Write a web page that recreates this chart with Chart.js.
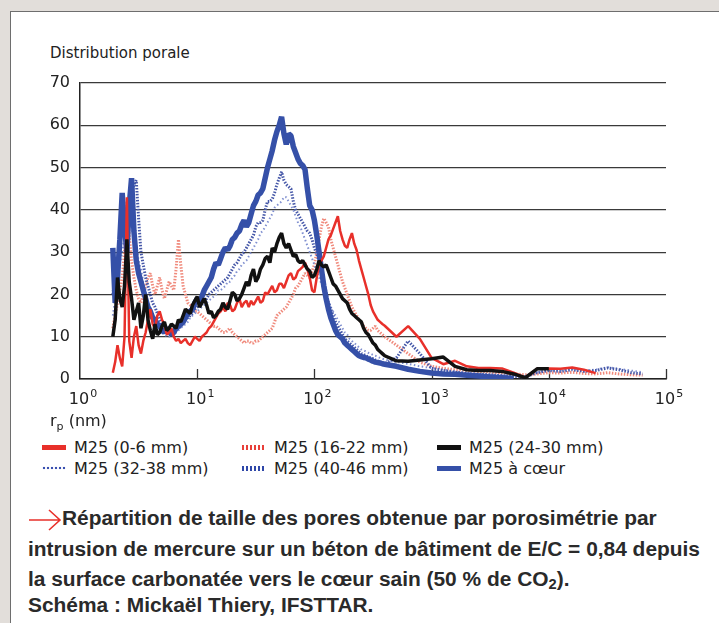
<!DOCTYPE html>
<html><head><meta charset="utf-8">
<script src="https://cdn.jsdelivr.net/npm/chart.js@4.4.1/dist/chart.umd.min.js"></script>
<style>
html,body{margin:0;padding:0;width:719px;height:623px;overflow:hidden;background:#e2deda;position:relative;}
#panel{position:absolute;left:10px;top:11px;width:709px;height:612px;background:#fff;border-left:1.5px solid #6e6e6e;border-top:1.5px solid #6e6e6e;}
#chartwrap{position:absolute;left:0;top:0;width:719px;height:420px;}
.t{position:absolute;font-family:"DejaVu Sans",sans-serif;color:#222;white-space:nowrap;}
.leg{position:absolute;display:flex;align-items:center;height:20px;font-family:"DejaVu Sans",sans-serif;font-size:16px;color:#222;white-space:nowrap;}
.sw{display:inline-block;width:24px;margin-right:8px;}
.cap{position:absolute;left:28px;font-family:"Liberation Sans",Arial,sans-serif;font-weight:bold;font-size:20px;color:#2a2a2a;white-space:nowrap;transform-origin:0 50%;}
</style></head>
<body>
<div id="panel"></div>
<div class="t" style="left:50px;top:44px;font-size:15px;">Distribution porale</div>
<div id="chartwrap"><canvas id="c" width="719" height="420"></canvas></div>
<div class="t" style="left:50px;top:411px;font-size:16px;">r<sub style="font-size:11px;vertical-align:-4px;">p</sub> (nm)</div>
<div id="legend"></div>
<div class="cap" id="cap1" style="top:507px;left:62px;">Répartition de taille des pores obtenue par porosimétrie par</div>
<svg style="position:absolute;left:28px;top:509px" width="34" height="22"><path d="M1 11 H31 M21 1 L32 11 L21 21" fill="none" stroke="#e8302a" stroke-width="1.6"/></svg>
<div class="cap" id="cap2" style="top:538px;">intrusion de mercure sur un béton de bâtiment de E/C = 0,84 depuis</div>
<div class="cap" id="cap3" style="top:568px;">la surface carbonatée vers le cœur sain (50 % de CO<sub style="font-size:14px;vertical-align:-3px;">2</sub>).</div>
<div class="cap" id="cap4" style="top:594px;">Schéma : Mickaël Thiery, IFSTTAR.</div>
<script>
// log10 of pore radius rp (nm)
const logRp = [
  0.28,0.30,0.32,0.34,0.36,0.38,0.40,0.42,0.44,0.46,0.48,0.50,0.52,0.54,0.56,0.58,0.60,0.62,0.64,0.66,
  0.68,0.70,0.72,0.74,0.76,0.78,0.80,0.82,0.84,0.86,0.88,0.90,0.92,0.94,0.96,0.98,1.00,1.02,1.04,1.06,
  1.08,1.10,1.12,1.14,1.16,1.18,1.20,1.22,1.24,1.26,1.28,1.30,1.32,1.34,1.36,1.38,1.40,1.42,1.44,1.46,
  1.48,1.50,1.52,1.54,1.56,1.58,1.60,1.62,1.64,1.66,1.68,1.70,1.72,1.74,1.76,1.78,1.80,1.82,1.84,1.86,
  1.88,1.90,1.92,1.94,1.96,1.98,2.00,2.02,2.04,2.06,2.08,2.10,2.12,2.14,2.16,2.18,2.20,2.22,2.24,2.26,
  2.28,2.30,2.32,2.34,2.36,2.38,2.40,2.42,2.44,2.46,2.48,2.50,2.52,2.54,2.56,2.58,2.60,
  2.70,2.80,2.90,3.00,3.10,3.20,3.30,3.40,3.50,3.60,
  3.70,3.80,3.90,4.00,4.10,4.20,4.30,4.40,4.50,4.60,
  4.70,4.80];

const seriesNames = ['M25 (0-6 mm)','M25 (16-22 mm)','M25 (24-30 mm)','M25 (32-38 mm)','M25 (40-46 mm)','M25 à cœur'];

const m25_0_6 = [
  1.5,4,8,5,3,10,43,9,5,10,12.5,8,6,9,11,14,16.5,13,12,15,
  16,14,13,10.5,11,12,10,9,9.5,8.5,9,9.5,8.5,8,9,10,9.5,9,10,10.5,
  11,12,12.5,13.5,14.5,15.5,16,17,16,18,17.5,16,16.5,18,19,17,18,18.5,17,18.5,
  17.5,18.5,19.5,18,18.5,20.5,20,21,22,20.5,21,22.5,22.5,21.5,23,24.5,25,23.5,24,25.5,
  26,26.5,27.5,26,24,21,20.5,24,27,28,29,31,33,34,35.5,37,38.5,35,33,31.5,
  31,33,34.5,32,30.5,28,26,24,22,20,17.5,16,15,14,13.5,13,12.6,
  10,12.5,9.5,5,3.5,4.3,3,2.6,2.6,2.5,
  1.5,0.3,2.4,2.5,2.4,2.7,2.2,1.4,null,null,
  null,null];

const m25_16_22 = [
  12,15,18,21,24,30,42,34,28,24,21,19,18,20,22,24,25,22,20,22,
  24,21,19,21,23,22,21,26,33,27,22,20,18,17.5,17,16,16,15.5,15,14.5,
  14,13.5,13,12.5,12.5,12,11.5,11,11,11.5,12,11,10.5,10,9.5,9,8.5,9,9,8.5,
  8.5,9,9,9.5,10,10.5,11,11.5,12,13.5,15,15.5,16,16.5,17,18,19,20,21.5,22,
  23,24,25,24.5,24,25.5,27,30,33,36,38,37,36,33,31,29,27,25,23,21.5,
  20,18.5,17,16,15,14,13.5,12.5,12,11.5,11.5,12,12.5,11.5,11,10.5,10,
  8,6,4,3,2.5,2.2,2,1.8,1.6,1.4,
  1.2,1,1.2,1.5,1.4,1.6,1.3,1.2,1.5,1.2,
  1,0.9];

const m25_24_30 = [
  10,14,24,19,17,22,33,23,19,14,16,18,12,15,20,14,11.5,9.5,13,10.5,
  11,12.5,13.5,11.5,12,13,12.5,12,14,13.5,15,16.5,16,15.5,17.5,18.5,19.5,17,18,19,
  17.5,15.5,16,14.5,15,16,16.5,18,17,16.5,18.5,20.5,20,18.5,19,20,21.5,23,22,24.5,
  26,23,24,26,27,28.5,29,27.5,31,30,32,33.5,34.5,32,31,32,30.5,29,29.5,28,
  27.5,28,27,26,25.5,24,24.5,26,28,27,26.5,27,25.5,24,22.5,22,21,20,19,18.5,
  18,16.5,15.5,15,14.5,14,13.5,12,11,10.5,9.5,8.5,8,7,6.5,6,5.5,
  4.3,4.2,4.5,4.8,5.2,3,2.2,2,2,1.8,
  1.2,0.3,2.4,2.4,null,null,null,null,null,null,
  null,null];

const m25_32_38 = [
  15,19,22,27,30,34,40,37,36,33,32,28,26,23,21,18,17,15,14.5,13,
  12.5,11.5,11,10,10,10.5,10.5,11,11.5,12,12.5,13,13.5,14.5,15,15.5,16,16.5,17,17.5,
  18,18.5,19,19.5,20,21,21,21.5,22,23,23,24,24.5,25.5,26,27,27.5,28,29,30,
  31,32,33,34.5,35,36,37,38,39,40.5,41,41.5,42,43,43,42,41,40,38.5,37,
  36,34.5,33,31.5,30,28.5,27,25.5,24,22.5,21,19.5,18.5,17,16,15,14,13,12,11,
  10.5,9.5,9,8.5,8,7.5,7,6.8,6.5,6.2,6,5.7,5.5,5.2,5,4.8,4.6,
  4,3.6,3,2.6,2.2,1.8,1.5,1.2,1,0.9,
  0.8,0.7,1.6,2.2,2,2.4,2,2.2,2.8,2.4,
  2,1.6];

const m25_40_46 = [
  20,24,28,33,38,36,35,40,44,46,47,38,30,27,24,22,20,18,17,15.5,
  14,13,12.5,12,11.5,11,11,11.5,12,12.5,13,14,14.5,15,15.5,16.5,17,17.5,18,18.5,
  19,20,20.5,21,21.5,22,22.5,23,23.5,24,25,26,27,27.5,28.5,29.5,30,31,32,33,
  34,36,37,37,37.5,40,42,42,42.5,44,46,47.5,49,47,46,45.5,45,42,40,39,
  38,37,36,35,34.5,33,31,29.5,28,25.5,23,20.5,18,16.5,15,13.5,12.5,11.5,10.5,9.5,
  9,8.5,8,7.5,7,6.5,6,5.8,5.5,5.2,5,4.8,4.5,4.2,4,3.8,3.6,
  5,9,6,2.5,2,1.6,1.3,1.1,1,0.8,
  0.6,0.5,1.5,2,1.8,2.2,1.8,2,2.6,2.2,
  1.5,1.2];

const m25_coeur = [
  31,18,24,33,44,36,30,41,47.5,35,28,25,23,21,19,17,16,14.5,14,13,
  12.5,11.5,11,12,11.5,10.5,11,12,12.5,13,13.5,14.5,15.5,16,16.5,18,19,18.5,19.5,21,
  22,23,24,26,27.5,27,28.5,30,31,30.5,31.5,33,33.5,34.5,35,36.5,37.5,36,37,39,
  41,42,43.5,44,45,47.5,50,52,54,56.5,58.5,60,62,58,55.5,58,57.5,55,53.5,52,
  51,50.5,49.5,45,41,40,37.5,34,30,26,22,19,16.5,14.5,13,11.5,10.5,10,9.5,8.5,
  8,7.5,7,6.5,6,5.5,5.3,5.1,5,4.7,4.5,4.2,4,3.9,3.8,3.6,3.5,
  3,2.3,1.8,1.4,1.2,1.1,0.9,0.7,0.5,0.3,
  0.1,null,null,null,null,null,null,null,null,null,
  null,null];

const xTickValues = [1,10,100,1000,10000,100000];
const xTickBase = '10';
const xTickExponents = ['0','1','2','3','4','5'];
const yTickStep = 10;

const rp = logRp.map(l => Math.pow(10, l));
const pts = vals => rp.map((x, i) => ({x: x, y: vals[i]}));

const styles = [
  {color:'#e8302a', width:2.5, dash:[], order:2, sw:'background:#e8302a;height:5px;'},
  {color:'#f08a7c', width:3, dash:[1.5,1.5], order:6, sw:'height:5px;background:repeating-linear-gradient(90deg,#e8403a 0 2px,transparent 2px 4px);'},
  {color:'#111111', width:3.5, dash:[], order:1, sw:'background:#111;height:5px;'},
  {color:'#8090d0', width:2, dash:[1.5,2.5], order:5, sw:'height:4px;background:radial-gradient(circle,#3a50b0 1.2px,transparent 1.6px) 0 0/4px 4px;'},
  {color:'#4557a8', width:3, dash:[1.5,1.5], order:4, sw:'height:5px;background:repeating-linear-gradient(90deg,#2f47a8 0 2px,transparent 2px 4px);'},
  {color:'#3550a8', width:5.5, dash:[], order:3, sw:'background:#3550a8;height:5px;'}
];
const seriesData = [m25_0_6, m25_16_22, m25_24_30, m25_32_38, m25_40_46, m25_coeur];

const datasets = seriesData.map((d, i) => ({
  label: seriesNames[i], data: pts(d),
  borderColor: styles[i].color, borderWidth: styles[i].width, borderDash: styles[i].dash,
  order: styles[i].order, pointRadius: 0, tension: 0, fill: false,
  borderJoinStyle: 'bevel', borderCapStyle: 'butt', spanGaps: false
}));

// decade tick marks pointing up into the plot, and "10^n" labels with a raised exponent
const decadeTicks = {
  id: 'decadeTicks',
  beforeDatasetsDraw(chart) {
    const {ctx, chartArea, scales} = chart;
    ctx.save();
    ctx.strokeStyle = '#333'; ctx.lineWidth = 1.3;
    xTickValues.slice(1).forEach(v => {
      const px = Math.round(scales.x.getPixelForValue(v)) + 0.5;
      ctx.beginPath(); ctx.moveTo(px, chartArea.bottom); ctx.lineTo(px, chartArea.bottom - 10); ctx.stroke();
    });
    ctx.restore();
  },
  afterDraw(chart) {
    const {ctx, chartArea, scales} = chart;
    ctx.save();
    ctx.fillStyle = '#222';
    ctx.textBaseline = 'alphabetic';
    ctx.textAlign = 'left';
    const base = chartArea.bottom + 25;
    xTickValues.forEach((v, i) => {
      const px = scales.x.getPixelForValue(v);
      ctx.font = '16px "DejaVu Sans"';
      const w1 = ctx.measureText(xTickBase).width;
      ctx.font = '11px "DejaVu Sans"';
      const w2 = ctx.measureText(xTickExponents[i]).width;
      const x0 = px - (w1 + w2 + 1) / 2 + 3;
      ctx.font = '16px "DejaVu Sans"';
      ctx.fillText(xTickBase, x0, base);
      ctx.font = '11px "DejaVu Sans"';
      ctx.fillText(xTickExponents[i], x0 + w1 + 1, base - 7);
    });
    ctx.restore();
  }
};

new Chart(document.getElementById('c'), {
  type: 'line',
  data: {datasets},
  plugins: [decadeTicks],
  options: {
    responsive: false, animation: false, devicePixelRatio: 1,
    layout: {padding: {left: 0, right: 53, top: 83, bottom: 11}},
    plugins: {legend: {display: false}, tooltip: {enabled: false}},
    scales: {
      x: {
        type: 'logarithmic', min: 1, max: 100000,
        afterBuildTicks: s => { s.ticks = xTickValues.map(v => ({value: v, major: true})); },
        afterFit: s => { s.height = 30; },
        grid: {display: false, drawTicks: false},
        border: {display: true, color: '#222', width: 1.5},
        ticks: {display: false, autoSkip: false, maxRotation: 0,
          callback: (v, i) => xTickBase + '^' + xTickExponents[i]}
      },
      y: {
        min: 0, max: 70,
        afterFit: s => { s.width = 80; },
        grid: {color: '#3a3a3a', lineWidth: 1.2, drawTicks: false},
        border: {display: true, color: '#222', width: 1.5},
        ticks: {stepSize: yTickStep, padding: 10, color: '#222', font: {family: 'DejaVu Sans', size: 16}}
      }
    }
  }
});

// legend
const legPos = [[42,437],[242,437],[437,437],[42,458],[242,458],[437,458]];
const leg = document.getElementById('legend');
seriesNames.forEach((n, i) => {
  const d = document.createElement('div');
  d.className = 'leg';
  d.style.left = legPos[i][0] + 'px'; d.style.top = legPos[i][1] + 'px';
  d.innerHTML = '<span class="sw" style="' + styles[i].sw + '"></span><span>' + n + '</span>';
  leg.appendChild(d);
});

// one common horizontal scale for the caption, fitted on its widest line
const ref = document.getElementById('cap2').getBoundingClientRect().width;
const k = 672 / ref;
['cap1','cap2','cap3','cap4'].forEach(id => {
  document.getElementById(id).style.transform = 'scaleX(' + k + ')';
});
</script>
</body></html>
